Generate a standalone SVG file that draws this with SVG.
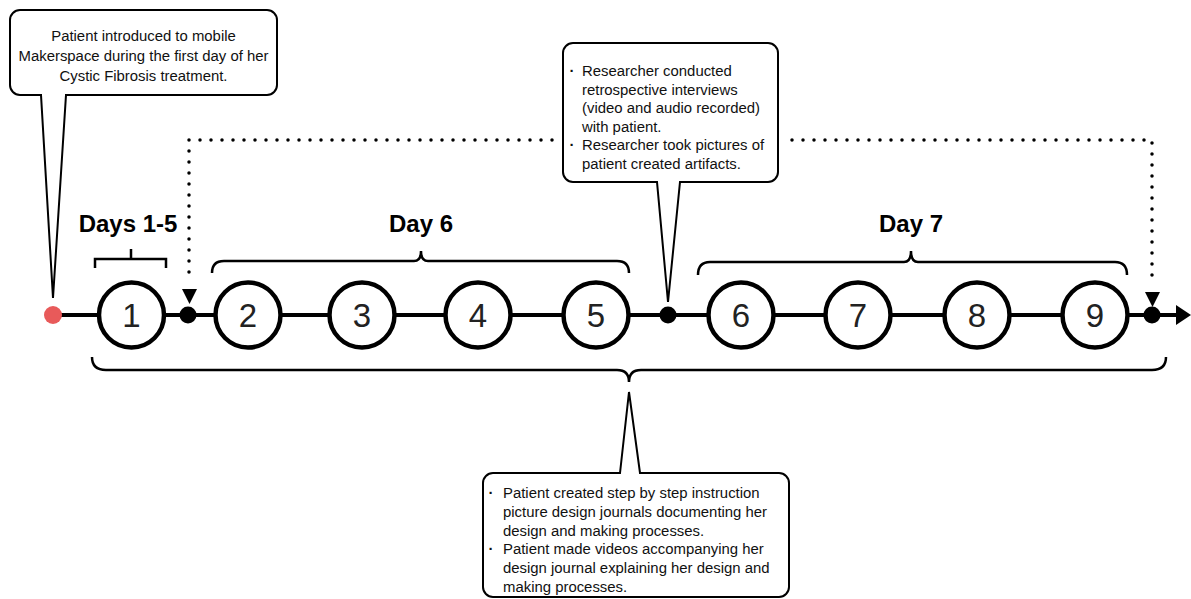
<svg xmlns="http://www.w3.org/2000/svg" width="1191" height="599" viewBox="0 0 1191 599">
<style>
.callout{fill:#fff;stroke:#000;stroke-width:2;stroke-linejoin:miter}
.txt{font-family:"Liberation Sans",Arial,sans-serif;font-size:14.9px;fill:#111}
.bul{font-weight:bold}
.day{font-family:"Liberation Sans",Arial,sans-serif;font-size:24px;font-weight:bold;fill:#000;text-anchor:middle}
.node circle{fill:#fff;stroke:#000;stroke-width:4.5}
.num{font-family:"Liberation Sans",Arial,sans-serif;font-size:33px;fill:#222;text-anchor:middle}
.brace{fill:none;stroke:#000;stroke-width:2.5}
.dots{fill:none;stroke:#000;stroke-width:3.5;stroke-linecap:round;stroke-dasharray:0 11}
</style>
<rect width="1191" height="599" fill="#fff"/>
<g id="connectors">
<line x1="53" y1="315" x2="1178" y2="315" stroke="#000" stroke-width="4"/>
<polygon points="1176,305 1191,315 1176,325" fill="#000"/>
<path class="dots" d="M552,140 H189 V283"/>
<polygon points="182,289 197,289 189.5,304" fill="#000"/>
<path class="dots" d="M792,140 H1152 V286"/>
<polygon points="1145,292 1160,292 1152.5,307" fill="#000"/>
<path class="brace" d="M95,268 V259 H166 V268 M131,259 V249"/>
<path class="brace" d="M212,273 Q212,261 224,261 H414 Q421,261 421,251 Q421,261 428,261 H617 Q629,261 629,273"/>
<path class="brace" d="M698,275 Q698,262 710,262 H904 Q911,262 911,251 Q911,262 918,262 H1115 Q1127,262 1127,275"/>
<path class="brace" d="M92,357 Q92,370 106,370 H617 Q629,370 629,382 Q629,370 641,370 H1152 Q1166,370 1166,357"/>
</g>
<g id="start"><circle cx="53" cy="315" r="9" fill="#e85a5a"/></g>
<g id="dot-a"><circle cx="188" cy="315" r="8.5" fill="#000"/></g>
<g id="dot-b"><circle cx="668" cy="315" r="8.5" fill="#000"/></g>
<g id="dot-c"><circle cx="1152" cy="315" r="8.5" fill="#000"/></g>
<g id="n1" class="node"><circle cx="131.5" cy="315" r="32.5"/><text class="num" x="131.5" y="327">1</text></g>
<g id="n2" class="node"><circle cx="248" cy="315" r="32.5"/><text class="num" x="248" y="327">2</text></g>
<g id="n3" class="node"><circle cx="362" cy="315" r="32.5"/><text class="num" x="362" y="327">3</text></g>
<g id="n4" class="node"><circle cx="478" cy="315" r="32.5"/><text class="num" x="478" y="327">4</text></g>
<g id="n5" class="node"><circle cx="596" cy="315" r="32.5"/><text class="num" x="596" y="327">5</text></g>
<g id="n6" class="node"><circle cx="741" cy="315" r="32.5"/><text class="num" x="741" y="327">6</text></g>
<g id="n7" class="node"><circle cx="858" cy="315" r="32.5"/><text class="num" x="858" y="327">7</text></g>
<g id="n8" class="node"><circle cx="977" cy="315" r="32.5"/><text class="num" x="977" y="327">8</text></g>
<g id="n9" class="node"><circle cx="1095" cy="315" r="32.5"/><text class="num" x="1095" y="327">9</text></g>
<g id="label-days15"><text class="day" x="128" y="232">Days 1-5</text></g>
<g id="label-day6"><text class="day" x="421" y="232">Day 6</text></g>
<g id="label-day7"><text class="day" x="911" y="232">Day 7</text></g>
<g id="callout-1">
<path class="callout" d="M20,10 H267 A10,10 0 0 1 277,20 V85 A10,10 0 0 1 267,95 H66 L53,298 L41,95 H20 A10,10 0 0 1 10,85 V20 A10,10 0 0 1 20,10 Z"/>
<text class="txt" text-anchor="middle"><tspan x="143.5" y="40.5">Patient introduced to mobile</tspan><tspan x="143.5" y="60.5">Makerspace during the first day of her</tspan><tspan x="143.5" y="80.5">Cystic Fibrosis treatment.</tspan></text>
</g>
<g id="callout-2">
<path class="callout" d="M573,43 H768 A10,10 0 0 1 778,53 V172 A10,10 0 0 1 768,182 H680 L668,302 L657,182 H573 A10,10 0 0 1 563,172 V53 A10,10 0 0 1 573,43 Z"/>
<text class="txt"><tspan class="bul" x="569.5" y="76">·</tspan><tspan x="582" y="76">Researcher conducted</tspan><tspan x="582" y="94.5">retrospective interviews</tspan><tspan x="582" y="113">(video and audio recorded)</tspan><tspan x="582" y="131.5">with patient.</tspan><tspan class="bul" x="569.5" y="150">·</tspan><tspan x="582" y="150">Researcher took pictures of</tspan><tspan x="582" y="168.5">patient created artifacts.</tspan></text>
</g>
<g id="callout-3">
<path class="callout" d="M493,473 H620 L629,392 L640,473 H779 A10,10 0 0 1 789,483 V587 A10,10 0 0 1 779,597 H493 A10,10 0 0 1 483,587 V483 A10,10 0 0 1 493,473 Z"/>
<text class="txt"><tspan class="bul" x="488.5" y="498">·</tspan><tspan x="503" y="498">Patient created step by step instruction</tspan><tspan x="503" y="517">picture design journals documenting her</tspan><tspan x="503" y="535.5">design and making processes.</tspan><tspan class="bul" x="488.5" y="554">·</tspan><tspan x="503" y="554">Patient made videos accompanying her</tspan><tspan x="503" y="573">design journal explaining her design and</tspan><tspan x="503" y="591.5">making processes.</tspan></text>
</g>
</svg>
